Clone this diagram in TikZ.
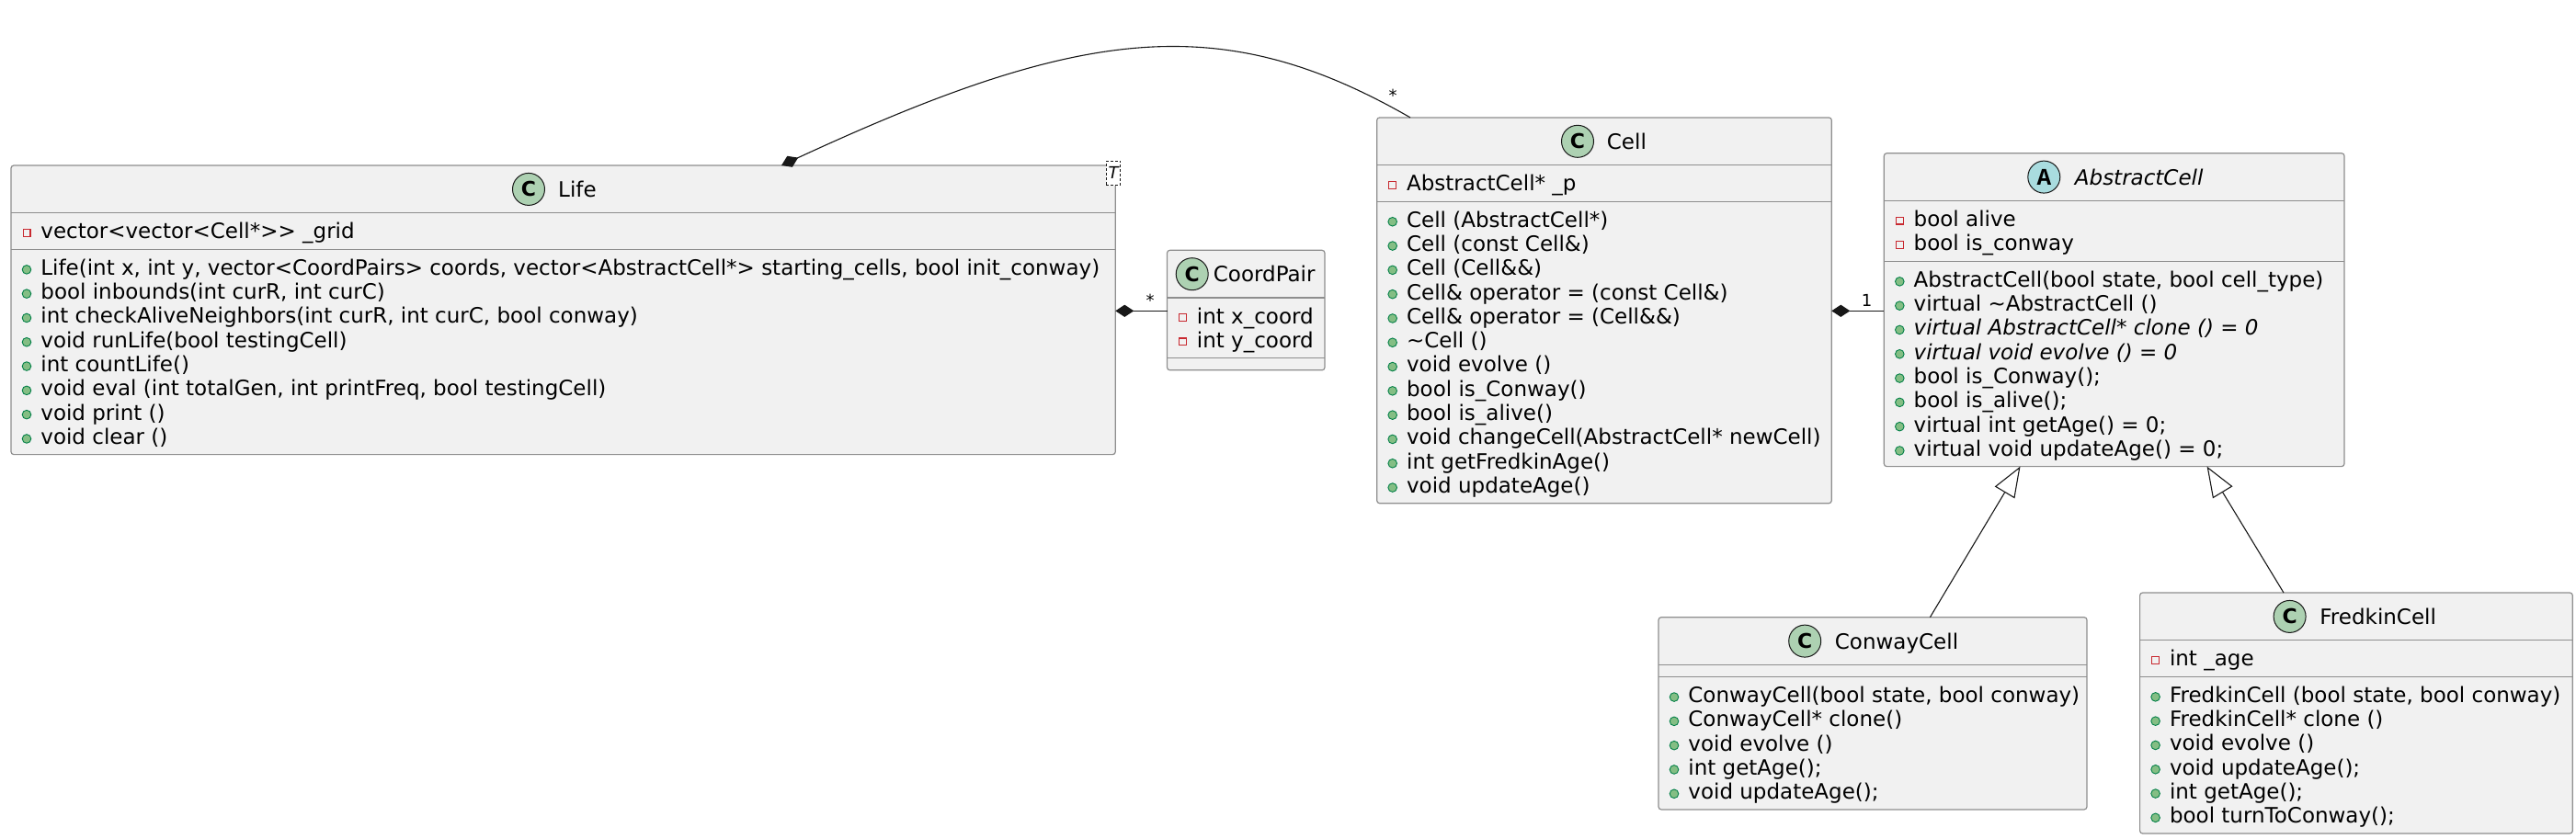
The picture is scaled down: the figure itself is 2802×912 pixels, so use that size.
\documentclass[tikz,border=0pt]{standalone}
\usepackage{fontspec}
\setmainfont{DejaVu Sans}
\newfontfamily\monofnt{Liberation Mono}
\usetikzlibrary{arrows.meta,calc}
\definecolor{boxfill}{HTML}{F1F1F1}
\definecolor{boxline}{HTML}{8E8E8E}
\definecolor{connline}{HTML}{181818}
\definecolor{cfill}{HTML}{ADD1B2}
\definecolor{afill}{HTML}{A9DCDF}
\definecolor{privred}{HTML}{C82930}
\definecolor{pubfill}{HTML}{84BE84}
\definecolor{pubdraw}{HTML}{038048}
\newcounter{mc}
% #1 box left, #2 line centre y, #3 text
\newcommand{\mpub}[3]{\stepcounter{mc}%
  \node[pubicon] (ic\themc) at (#1+17,#2+2.5) {};%
  \node[member] (tx\themc) at (#1+32,#2+8.4) {#3};}
\newcommand{\mpriv}[3]{\stepcounter{mc}%
  \node[privicon] (ic\themc) at (#1+17,#2+2) {};%
  \node[member] (tx\themc) at (#1+32,#2+8.4) {#3};}
% #1 name, #2 icon style, #3 letter, #4 circle x, #5 centre y, #6 text x, #7 title
\newcommand{\ctitle}[7]{%
  \node[#2] (#1sym) at (#4,#5) {#3};%
  \node[member] (#1name) at (#6-1.5,#5+8.4) {#7};}
\begin{document}
\begin{tikzpicture}[x=0.5pt,y=-0.5pt,
  classbox/.style={draw=boxline, fill=boxfill, line width=0.6pt, rounded corners=1.5pt,
    inner sep=0pt, outer sep=0pt, anchor=north west},
  sepline/.style={draw=boxline, line width=0.6pt},
  member/.style={font=\fontsize{11.5pt}{13.15pt}\selectfont, anchor=base west, inner sep=0pt, text=black},
  pubicon/.style={circle, fill=pubfill, draw=pubdraw, line width=0.45pt, minimum size=4.8pt, inner sep=0pt},
  privicon/.style={rectangle, draw=privred, line width=0.6pt, minimum size=3.9pt, inner sep=0pt},
  cicon/.style={circle, fill=cfill, draw=connline, line width=0.5pt, minimum size=17.5pt, inner sep=0pt,
    font=\fontsize{11pt}{11pt}\selectfont\bfseries},
  aicon/.style={cicon, fill=afill, font=\fontsize{13pt}{13pt}\selectfont\monofnt\bfseries},
  conn/.style={draw=connline, line width=0.55pt},
  comp/.style={conn, {Diamond[length=10pt, width=6.6pt]}-},
  inherit/.style={conn, -{Triangle[open, length=16.5pt, width=12.5pt]}},
  mult/.style={font=\fontsize{9pt}{9pt}\selectfont, anchor=base, inner sep=0pt},
  tparam/.style={draw=connline, dashed, dash pattern=on 1.5pt off 1pt, fill=white, line width=0.5pt,
    minimum width=7.7pt, minimum height=13.3pt, inner sep=0pt, font=\fontsize{9pt}{9pt}\selectfont\itshape}
]
\fill[white] (0,0) rectangle (2802,912);
\useasboundingbox (0,0) rectangle (2802,912);

% ---------- Life ----------
\node[classbox, minimum width=600.65pt, minimum height=157.3pt] (life) at (12,180) {};
\draw[sepline] (12,231.7) -- (1213.3,231.7);
\draw[sepline] (12,271.2) -- (1213.3,271.2);
\ctitle{life}{cicon}{C}{575}{205.9}{608.3}{Life}
\mpriv{12}{251.35}{vector<vector<Cell*>{}> \_grid}
\mpub{12}{290.85}{Life(int x, int y, vector<CoordPairs> coords, vector<AbstractCell*> starting\_cells, bool init\_conway)}
\mpub{12}{290.85+1*26.3}{bool inbounds(int curR, int curC)}
\mpub{12}{290.85+2*26.3}{int checkAliveNeighbors(int curR, int curC, bool conway)}
\mpub{12}{290.85+3*26.3}{void runLife(bool testingCell)}
\mpub{12}{290.85+4*26.3}{int countLife()}
\mpub{12}{290.85+5*26.3}{void eval (int totalGen, int printFreq, bool testingCell)}
\mpub{12}{290.85+6*26.3}{void print ()}
\mpub{12}{290.85+7*26.3}{void clear ()}

% ---------- CoordPair ----------
\node[classbox, minimum width=85.75pt, minimum height=65.25pt] (coord) at (1269.5,272.3) {};
\draw[sepline] (1269.5,324) -- (1441,324);
\draw[sepline] (1269.5,389.8) -- (1441,389.8);
\ctitle{coord}{cicon}{C}{1296.7}{298.2}{1321}{CoordPair}
\mpriv{1269.5}{343.65}{int x\_coord}
\mpriv{1269.5}{343.65+26.3}{int y\_coord}

% ---------- Cell ----------
\node[classbox, minimum width=247.3pt, minimum height=209.9pt] (cell) at (1497.7,127.9) {};
\draw[sepline] (1497.7,179.6) -- (1992.3,179.6);
\draw[sepline] (1497.7,219.1) -- (1992.3,219.1);
\ctitle{cell}{cicon}{C}{1716}{153.8}{1749}{Cell}
\mpriv{1497.7}{199.25}{AbstractCell* \_p}
\mpub{1497.7}{238.75}{Cell (AbstractCell*)}
\mpub{1497.7}{238.75+1*26.3}{Cell (const Cell\&)}
\mpub{1497.7}{238.75+2*26.3}{Cell (Cell\&\&)}
\mpub{1497.7}{238.75+3*26.3}{Cell\& operator = (const Cell\&)}
\mpub{1497.7}{238.75+4*26.3}{Cell\& operator = (Cell\&\&)}
\mpub{1497.7}{238.75+5*26.3}{\textasciitilde Cell ()}
\mpub{1497.7}{238.75+6*26.3}{void evolve ()}
\mpub{1497.7}{238.75+7*26.3}{bool is\_Conway()}
\mpub{1497.7}{238.75+8*26.3}{bool is\_alive()}
\mpub{1497.7}{238.75+9*26.3}{void changeCell(AbstractCell* newCell)}
\mpub{1497.7}{238.75+10*26.3}{int getFredkinAge()}
\mpub{1497.7}{238.75+11*26.3}{void updateAge()}

% ---------- AbstractCell ----------
\node[classbox, minimum width=250.35pt, minimum height=170.45pt] (abs) at (2049.3,166.7) {};
\draw[sepline] (2049.3,218.4) -- (2550,218.4);
\draw[sepline] (2049.3,284.2) -- (2550,284.2);
\ctitle{abs}{aicon}{A}{2223.3}{192.6}{2258}{\itshape AbstractCell}
\mpriv{2049.3}{238.05}{bool alive}
\mpriv{2049.3}{238.05+26.3}{bool is\_conway}
\mpub{2049.3}{303.85}{AbstractCell(bool state, bool cell\_type)}
\mpub{2049.3}{303.85+1*26.3}{virtual \textasciitilde AbstractCell ()}
\mpub{2049.3}{303.85+2*26.3}{\itshape virtual AbstractCell* clone () = 0}
\mpub{2049.3}{303.85+3*26.3}{\itshape virtual void evolve () = 0}
\mpub{2049.3}{303.85+4*26.3}{bool is\_Conway();}
\mpub{2049.3}{303.85+5*26.3}{bool is\_alive();}
\mpub{2049.3}{303.85+6*26.3}{virtual int getAge() = 0;}
\mpub{2049.3}{303.85+7*26.3}{virtual void updateAge() = 0;}

% ---------- ConwayCell ----------
\node[classbox, minimum width=233pt, minimum height=104.6pt] (conway) at (1804,671.7) {};
\draw[sepline] (1804,723.4) -- (2270,723.4);
\draw[sepline] (1804,736.4) -- (2270,736.4);
\ctitle{conway}{cicon}{C}{1963.2}{697.6}{1997}{ConwayCell}
\mpub{1804}{756.05}{ConwayCell(bool state, bool conway)}
\mpub{1804}{756.05+1*26.3}{ConwayCell* clone()}
\mpub{1804}{756.05+2*26.3}{void evolve ()}
\mpub{1804}{756.05+3*26.3}{int getAge();}
\mpub{1804}{756.05+4*26.3}{void updateAge();}

% ---------- FredkinCell ----------
\node[classbox, minimum width=235.35pt, minimum height=131pt] (fred) at (2327.6,645) {};
\draw[sepline] (2327.6,696.7) -- (2798.3,696.7);
\draw[sepline] (2327.6,736.2) -- (2798.3,736.2);
\ctitle{fred}{cicon}{C}{2490.6}{670.9}{2524.5}{FredkinCell}
\mpriv{2327.6}{716.35}{int \_age}
\mpub{2327.6}{755.85}{FredkinCell (bool state, bool conway)}
\mpub{2327.6}{755.85+1*26.3}{FredkinCell* clone ()}
\mpub{2327.6}{755.85+2*26.3}{void evolve ()}
\mpub{2327.6}{755.85+3*26.3}{void updateAge();}
\mpub{2327.6}{755.85+4*26.3}{int getAge();}
\mpub{2327.6}{755.85+5*26.3}{bool turnToConway();}

% ---------- connectors ----------
\coordinate (lifeTop) at ($(life.north west)+(838,0)$);
\coordinate (cellTop) at ($(cell.north west)+(36.3,0)$);
\coordinate (lifeR) at ($(life.north east)+(0,158.3)$);
\coordinate (coordL) at ($(coord.north west)+(0,66)$);
\coordinate (cellR) at ($(cell.north east)+(0,210.4)$);
\coordinate (absL) at ($(abs.north west)+(0,171.6)$);
\coordinate (conwayTop) at ($(conway.north west)+(295.4,0)$);
\coordinate (absBotL) at ($(abs.south west)+(148.2,0)$);
\coordinate (fredTop) at ($(fred.north west)+(156.4,0)$);
\coordinate (absBotR) at ($(abs.south west)+(351.3,0)$);

\draw[comp] (lifeTop) .. controls (1176,29) and (1328,9.5) .. (cellTop);
\draw[comp] (lifeR) -- (coordL);
\draw[comp] (cellR) -- (absL);
\draw[inherit] (conwayTop) -- (absBotL);
\draw[inherit] (fredTop) -- (absBotR);

\node[mult] (mlifecell) at (1515,110.6) {*};
\node[mult] (mlifecoord) at (1251,333) {*};
\node[mult] (mcellabs) at (2030.7,333.3) {1};

% template parameter box
\node[tparam] (tpar) at (1211,188.3) {T};
\end{tikzpicture}
\end{document}
